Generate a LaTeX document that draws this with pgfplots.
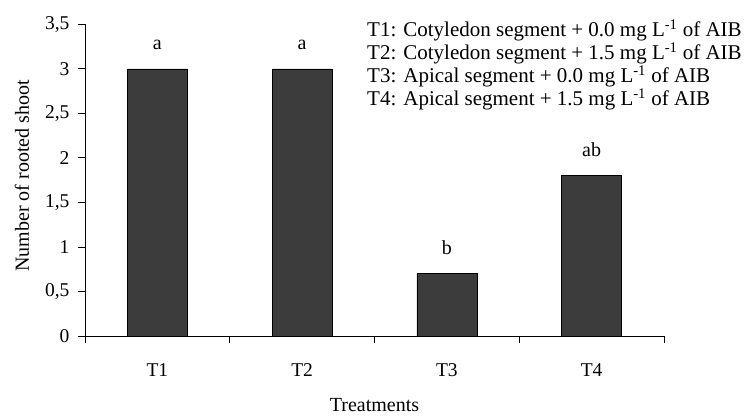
\documentclass[border=0pt]{standalone}
\usepackage{fontspec}
\setmainfont{Liberation Serif}
\usepackage{pgfplots}
\pgfplotsset{compat=1.18}
\usepackage{pgfplotstable}
\definecolor{barfill}{RGB}{60,60,60}
\pgfplotstableread{
x y lab
0 3.0 a
1 3.0 a
2 0.7 b
3 1.8 ab
}\datatable
\begin{document}
\begin{tikzpicture}
\useasboundingbox (0,0) rectangle (756bp,416bp);
\begin{axis}[
  at={(85bp,80bp)}, anchor=south west,
  scale only axis, width=579bp, height=311.7bp,
  xmin=-0.5, xmax=3.5, ymin=0, ymax=3.5,
  axis x line*=bottom, axis y line*=left,
  axis line style={-, black, line width=0.8bp},
  tick align=outside,
  major tick length=7bp,
  tick style={black, line width=0.8bp},
  ytick={0,0.5,1,1.5,2,2.5,3,3.5},
  yticklabel style={xshift=-5bp},
  xtick={-0.5,0.5,1.5,2.5,3.5}, xticklabels={},
  extra x ticks={0,1,2,3}, extra x tick labels={T1,T2,T3,T4},
  extra x tick style={major tick length=0pt, xticklabel style={anchor=base, yshift=-40bp}},
  /pgf/number format/use comma,
  /pgf/number format/assume math mode=true,
  tick label style={font=\fontsize{19.5bp}{22bp}\selectfont},
  label style={font=\fontsize{20bp}{24bp}\selectfont},
  xlabel={Treatments},
  ylabel={Number of rooted shoot},
  xlabel style={at={(axis description cs:0.5,-0.221)}, anchor=center},
  ylabel style={at={(axis description cs:-0.109,0.514)}, anchor=center},
  nodes near coords,
  point meta=explicit symbolic,
  every node near coord/.append style={anchor=base, yshift=19bp, font=\fontsize{20bp}{24bp}\selectfont, text=black},
]
\addplot[ybar, bar width=60bp, fill=barfill, draw=black, line width=0.6bp] table[x=x, y=y, meta=lab] {\datatable};
\end{axis}
\begin{scope}[every node/.style={anchor=base west, inner sep=0pt, font=\fontsize{21bp}{24bp}\selectfont}]
\node at (367bp,379bp) {T1: Cotyledon segment + 0.0 mg L\textsuperscript{-1} of AIB};
\node at (367bp,356bp) {T2: Cotyledon segment + 1.5 mg L\textsuperscript{-1} of AIB};
\node at (367bp,333bp) {T3: Apical segment + 0.0 mg L\textsuperscript{-1} of AIB};
\node at (367bp,310bp) {T4: Apical segment + 1.5 mg L\textsuperscript{-1} of AIB};
\end{scope}
\end{tikzpicture}
\end{document}
